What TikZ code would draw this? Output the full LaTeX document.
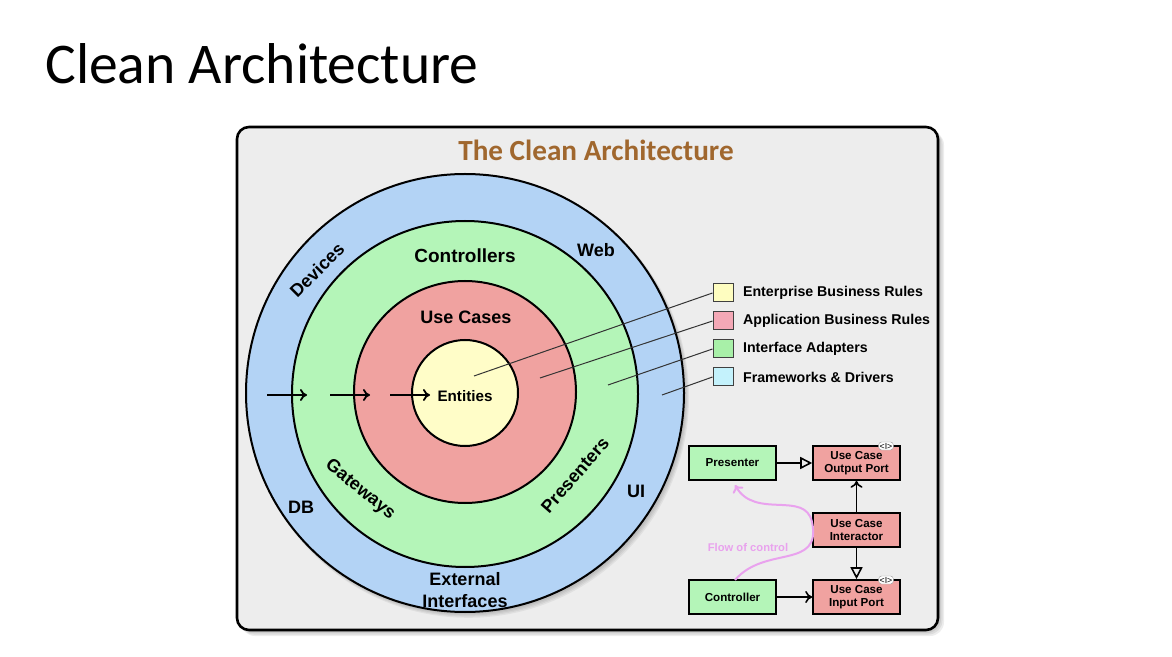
\documentclass[tikz,border=0pt]{standalone}
\usepackage{fontspec}
\setmainfont{Liberation Sans}
\newfontfamily\slidefont{Carlito}
\usetikzlibrary{arrows.meta,positioning}

\begin{document}
\begin{tikzpicture}[x=0.5pt,y=-0.5pt,
    ring/.style={circle,draw=black,line width=1pt,inner sep=0pt},
    ringtext/.style={font=\fontsize{9}{10}\selectfont\bfseries,align=center},
    keybox/.style={draw=black!75,line width=0.5pt,minimum width=10pt,minimum height=9pt,inner sep=0pt},
    keytext/.style={font=\fontsize{7.1}{8}\selectfont\bfseries,anchor=west},
    umlbox/.style={draw=black,line width=0.8pt,minimum width=43.5pt,minimum height=17pt,inner sep=0pt,align=center,font=\fontsize{5.8}{6.8}\selectfont\bfseries},
    porttab/.style={fill=white,draw=black!40,line width=0.2pt,rounded corners=1.5pt,inner sep=0.5pt,font=\fontsize{4.4}{4.6}\selectfont},
    leader/.style={black!80,line width=0.5pt},
    flow/.style={-{To[length=3.5pt,width=6pt]},black,line width=0.9pt}]
    \definecolor{panelgray}{HTML}{EDEDED}
    \definecolor{ringblue}{HTML}{B3D3F5}
    \definecolor{ringgreen}{HTML}{B4F5B8}
    \definecolor{ringred}{HTML}{F0A2A0}
    \definecolor{ringyellow}{HTML}{FFFDC8}
    \definecolor{keyyellow}{HTML}{FEFDC0}
    \definecolor{keypink}{HTML}{F4A8B6}
    \definecolor{keygreen}{HTML}{A8F0A8}
    \definecolor{keycyan}{HTML}{C4F2FC}
    \definecolor{titlebrown}{HTML}{A0672E}
    \definecolor{flowpink}{HTML}{E9A2EE}
    \useasboundingbox[fill=white] (0,0) rectangle (1172,657);
    \node[font=\slidefont\fontsize{28.8}{32}\selectfont,anchor=base west,inner sep=0pt] (slidetitle) at (45,84) {Clean Architecture};
    \foreach \s in {1,...,4}
      \fill[black,opacity=0.07,rounded corners=7pt] (237+\s,127+\s) rectangle (938+1.5*\s,630+1.5*\s);
    \node[fill=panelgray,draw=black,line width=1.3pt,rounded corners=6pt,minimum width=350.5pt,minimum height=251.5pt] (panel) at (587.5,378.5) {};
    \node[font=\slidefont\bfseries\fontsize{14.6}{16}\selectfont,text=titlebrown] (paneltitle) at (596,150) {The Clean Architecture};
    \foreach \s in {1,...,4}
      \fill[black,opacity=0.05] (466+0.6*\s,394+0.8*\s) circle (219+0.4*\s);
    \node[ring,fill=ringblue,minimum size=219pt] (outer) at (465,393) {};
    \node[ring,fill=ringgreen,minimum size=173pt] (adapters) at (465,394) {};
    \node[ring,fill=ringred,minimum size=111pt] (usecases) at (465,392) {};
    \node[ring,fill=ringyellow,minimum size=53pt] (entities) at (465,393) {};
    \node[ringtext] (controllers) at (465,256) {\fontsize{9.5}{10}\selectfont Controllers};
    \node[ringtext] (usecaselabel) at (466,317) {Use Cases};
    \node[ringtext,font=\fontsize{7.6}{9}\selectfont\bfseries] (entitylabel) at (465,396) {Entities};
    \node[ringtext] (web) at (596,250) {Web};
    \node[ringtext] (db) at (301,507) {DB};
    \node[ringtext] (ui) at (636,491) {UI};
    \node[ringtext,rotate=45,inner sep=0pt] (devices) at (317,270) {Devices};
    \node[ringtext,rotate=-39,inner sep=0pt] (gateways) at (360,490) {Gateways};
    \node[ringtext,rotate=49,inner sep=0pt] (presenters) at (575,475) {Presenters};
    \node[ringtext,font=\fontsize{9}{10.6}\selectfont\bfseries] (external) at (465,590) {External\\Interfaces};
    \foreach \i/\a/\b in {1/267/307, 2/330/370, 3/390/430} {
      \coordinate (in\i) at (\a,395);
      \coordinate (out\i) at (\b,395);
      \draw[flow] (in\i) -- (out\i);
    }
    \foreach \k/\y/\col/\lab/\px/\py in {
      1/293/keyyellow/Enterprise Business Rules/474/376,
      2/321/keypink/Application Business Rules/540/378,
      3/349/keygreen/Interface Adapters/608/385,
      4/377/keycyan/Frameworks \& Drivers/662/395} {
      \node[keybox,fill=\col] (key\k) at (723,\y) {};
      \node[keytext] (keylab\k) at (736,\y) {\lab};
      \coordinate (pin\k) at (\px,\py);
      \draw[leader] (key\k.west) -- (pin\k);
    }
    \node[umlbox,fill=ringgreen] (presenter) at (732.5,463) {Presenter};
    \node[umlbox,fill=ringred] (outport) at (856.5,463) {Use Case\\Output Port};
    \node[umlbox,fill=ringred] (interactor) at (856.5,530) {Use Case\\Interactor};
    \node[umlbox,fill=ringgreen] (controller) at (732.5,597) {Controller};
    \node[umlbox,fill=ringred] (inport) at (856.5,597) {Use Case\\Input Port};
    \node[porttab] (outtab) at (886,446) {<I>};
    \node[porttab] (intab) at (886,580) {<I>};
    \draw[line width=0.8pt,-{Triangle[open,length=6pt,width=6pt]}] (presenter) -- (outport);
    \draw[line width=0.8pt,-{To[length=3.5pt,width=6pt]}] (interactor) -- (outport);
    \draw[line width=0.8pt,-{Triangle[open,length=6pt,width=6pt]}] (interactor) -- (inport);
    \draw[line width=0.8pt,-{To[length=3.5pt,width=6pt]}] (controller) -- (inport);
    \coordinate (flowstart) at (735,580);
    \coordinate (flowend) at (735,485);
    \draw[flowpink,line width=1pt,-{To[length=3.5pt,width=6pt]}] (flowstart) .. controls (765,545) and (822,570) .. (812,522) .. controls (805,490) and (755,520) .. (flowend);
    \node[font=\fontsize{5.6}{6}\selectfont\bfseries,text=flowpink] (flowlabel) at (748,547) {Flow of control};
  \end{tikzpicture}
\end{document}
